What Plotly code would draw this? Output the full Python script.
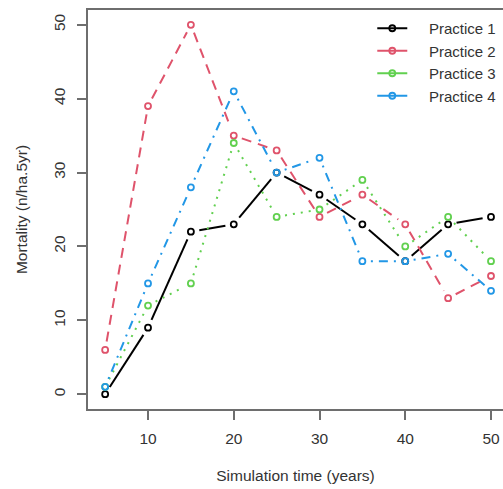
import math
import plotly.graph_objects as go

# Mortality by management practice over the simulation horizon
years = [5, 10, 15, 20, 25, 30, 35, 40, 45, 50]
practice_1 = [0, 9, 22, 23, 30, 27, 23, 18, 23, 24]
practice_2 = [6, 39, 50, 35, 33, 24, 27, 23, 13, 16]
practice_3 = [1, 12, 15, 34, 24, 25, 29, 20, 24, 18]
practice_4 = [1, 15, 28, 41, 30, 32, 18, 18, 19, 14]

names = ["Practice 1", "Practice 2", "Practice 3", "Practice 4"]
series = [practice_1, practice_2, practice_3, practice_4]
colors = ["#000000", "#DF536B", "#61D04F", "#2297E6"]
dashes = ["solid", "10px,7px", "2px,6px", "2px,6px,9px,6px"]

W, H = 503, 489
M_L, M_R, M_T, M_B = 88, 0, 10, 80
X_RANGE = [3.0, 51.4]
Y_RANGE = [-2.0, 52.0]

# pixels per data unit, used to leave a small gap around each point
sx = (W - M_L - M_R) / (X_RANGE[1] - X_RANGE[0])
sy = (H - M_T - M_B) / (Y_RANGE[1] - Y_RANGE[0])
GAP = 8.5


def gapped_segments(xs, ys):
    gx, gy = [], []
    for i in range(len(xs) - 1):
        x0, y0, x1, y1 = xs[i], ys[i], xs[i + 1], ys[i + 1]
        length = math.hypot((x1 - x0) * sx, (y1 - y0) * sy)
        if length <= 2 * GAP:
            continue
        f = GAP / length
        gx += [x0 + (x1 - x0) * f, x1 - (x1 - x0) * f, None]
        gy += [y0 + (y1 - y0) * f, y1 - (y1 - y0) * f, None]
    return gx, gy


marker_style = lambda col: dict(symbol="circle-open", size=6, color=col,
                                line=dict(width=1.8, color=col))

fig = go.Figure()
for name, ys, col, dash in zip(names, series, colors, dashes):
    lx, ly = gapped_segments(years, ys)
    fig.add_trace(go.Scatter(
        x=lx, y=ly, mode="lines", showlegend=False, hoverinfo="skip",
        line=dict(color=col, width=2, dash=dash),
    ))
    fig.add_trace(go.Scatter(
        x=years, y=ys, mode="markers", showlegend=False, name=name,
        marker=marker_style(col),
    ))

# legend entries
for name, col in zip(names, colors):
    fig.add_trace(go.Scatter(
        x=[None], y=[None], mode="lines+markers",
        name="\u00a0\u00a0\u00a0\u00a0" + name,
        line=dict(color=col, width=2),
        marker=marker_style(col),
    ))

axis_font = dict(family="Liberation Sans, Arial, sans-serif", size=15.5, color="#333333")

fig.update_layout(
    width=W, height=H,
    margin=dict(l=M_L, r=M_R, t=M_T, b=M_B),
    paper_bgcolor="white", plot_bgcolor="white",
    font=axis_font,
    showlegend=True,
    legend=dict(
        x=0.685, y=0.995, xanchor="left", yanchor="top",
        bgcolor="rgba(0,0,0,0)", borderwidth=0,
        font=dict(family="Liberation Sans, Arial, sans-serif", size=15, color="#333333"),
        itemwidth=30, tracegroupgap=0,
    ),
    xaxis=dict(
        range=X_RANGE, tickvals=[10, 20, 30, 40, 50],
        showgrid=False, zeroline=False,
        showline=True, mirror=True, linecolor="#6e6e6e", linewidth=1.5,
        ticks="outside", ticklen=9, tickwidth=1.5, tickcolor="#6e6e6e",
        ticklabelstandoff=6,
        tickfont=axis_font,
        title=dict(text="Simulation time (years)", font=axis_font, standoff=24),
    ),
    yaxis=dict(
        range=Y_RANGE, tickvals=[0, 10, 20, 30, 40, 50],
        showgrid=False, zeroline=False,
        showline=True, linecolor="#6e6e6e", linewidth=1.5,
        ticks="outside", ticklen=9, tickwidth=1.5, tickcolor="#6e6e6e",
        ticklabelstandoff=6,
        tickangle=-90, tickfont=axis_font,
        title=dict(text="Mortality (n/ha.5yr)", font=axis_font, standoff=20),
    ),
)

fig.write_html("out.html")
